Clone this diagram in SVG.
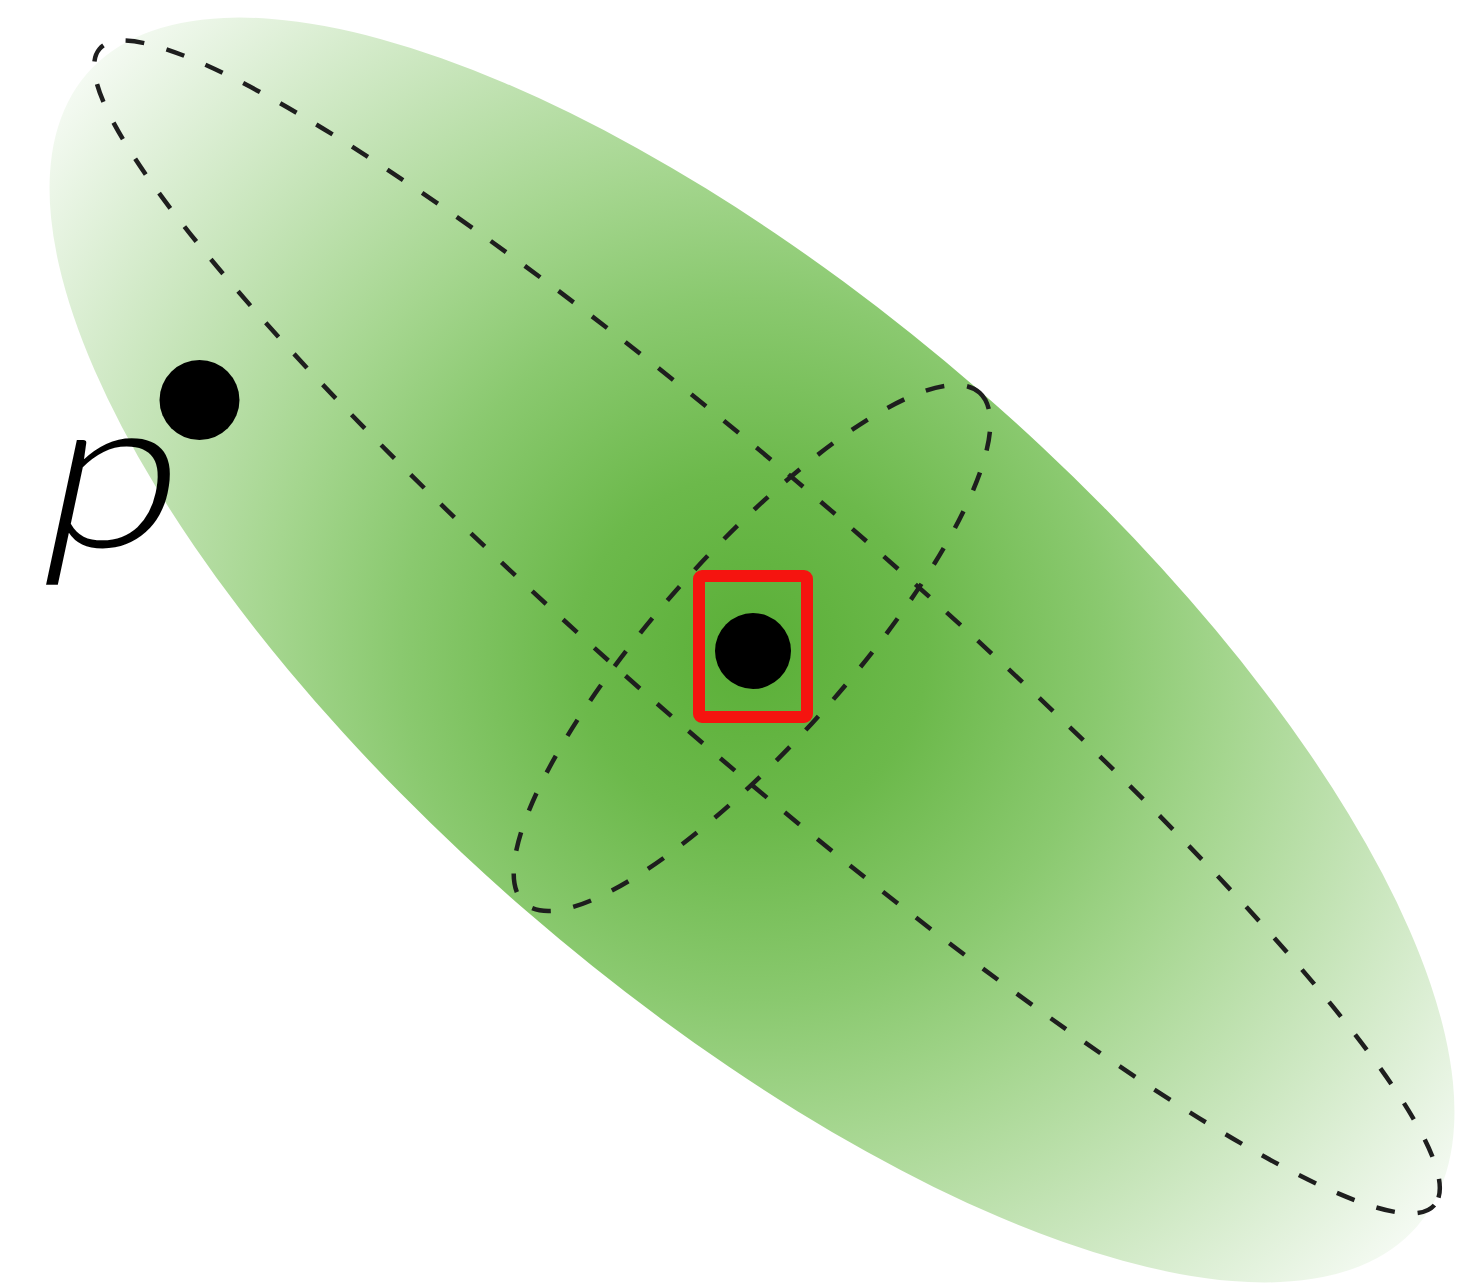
<svg xmlns="http://www.w3.org/2000/svg" width="1460" height="1288" viewBox="0 0 1460 1288">
  <defs>
    <radialGradient id="greenGrad" gradientUnits="userSpaceOnUse" cx="0" cy="0" r="880">
      <stop offset="0" stop-color="#5aaf37"/>
      <stop offset="0.2" stop-color="#6cb94b"/>
      <stop offset="0.4" stop-color="#8ac96f"/>
      <stop offset="0.55" stop-color="#a5d68f"/>
      <stop offset="0.72" stop-color="#c3e3b5"/>
      <stop offset="0.88" stop-color="#dff0d8"/>
      <stop offset="1" stop-color="#f4faf2"/>
    </radialGradient>
    <style>
      .dash { fill: none; stroke: #1e1e1e; stroke-width: 4.5; stroke-dasharray: 19 23; }
      .dot { fill: #000000; }
      .label { font-family: "Lato", "Liberation Sans", sans-serif; font-weight: 300; font-size: 215px; fill: #000000; }
    </style>
  </defs>
  <rect width="1460" height="1288" fill="#ffffff"/>
  <g id="distribution">
    <ellipse cx="0" cy="0" rx="880" ry="345" fill="url(#greenGrad)" transform="translate(752,650) rotate(40.9)"/>
  </g>
  <g id="ellipses">
    <ellipse class="dash" cx="0" cy="0" rx="883" ry="130" transform="translate(767,627) rotate(40.9)"/>
    <ellipse class="dash" cx="0" cy="0" rx="342" ry="95" transform="translate(752,648) rotate(-48.3)"/>
  </g>
  <g id="center">
    <rect x="699" y="576" width="108" height="141" rx="3" fill="none" stroke="#f5140f" stroke-width="12"/>
    <circle class="dot" cx="753" cy="651" r="38"/>
  </g>
  <g id="point-p">
    <circle class="dot" cx="199.5" cy="400" r="40"/>
    <text class="label" x="0" y="0" transform="translate(34,547) skewX(-12) scale(1.14,1)">p</text>
  </g>
</svg>
